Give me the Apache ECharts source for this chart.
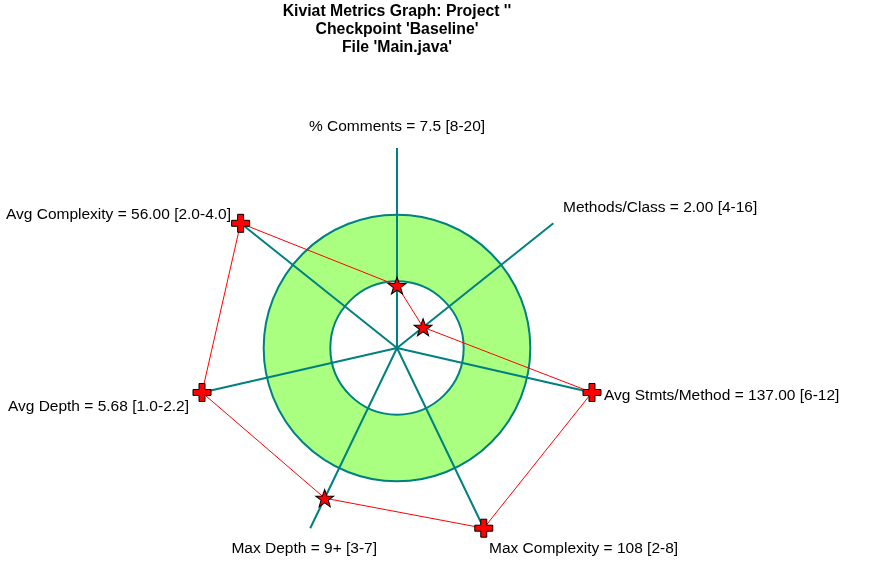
<!DOCTYPE html>
<html>
<head>
<meta charset="utf-8">
<title>Kiviat Metrics Graph</title>
<script src="https://cdn.jsdelivr.net/npm/echarts@6/dist/echarts.min.js"></script>
<style>
  html, body { margin: 0; padding: 0; background: #fff; }
  #chart-container { width: 876px; height: 574px; }
</style>
</head>
<body>
<div id="chart-container"></div>
<script>
// metric data
const metricNames = ["% Comments", "Methods/Class", "Avg Stmts/Method", "Max Complexity", "Max Depth", "Avg Depth", "Avg Complexity"];
const metricValues = [7.5, 2.0, 137.0, 108, 9, 5.68, 56.0];
const metricValueText = ["7.5", "2.00", "137.00", "108", "9+", "5.68", "56.00"];
const rangeLow = [8, 4, 6, 2, 3, 1.0, 2.0];
const rangeHigh = [20, 16, 12, 8, 7, 2.2, 4.0];
const rangeText = ["8-20", "4-16", "6-12", "2-8", "3-7", "1.0-2.2", "2.0-4.0"];

// label anchors [x, y, align]
const labelPlace = [
  [397, 127, "center"],
  [563, 208, "left"],
  [604, 396, "left"],
  [489, 549, "left"],
  [377, 549, "right"],
  [189, 407, "right"],
  [231, 215, "right"],
];

const STAR = "path://M50 0 L61.8 33.8 L97.6 34.5 L69 56.2 L79.4 90.5 L50 70 L20.6 90.5 L31 56.2 L2.4 34.5 L38.2 33.8 Z";
const CROSS = "path://M6 0 H12 V6 H18 V12 H12 V18 H6 V12 H0 V6 H6 Z";
const TEAL = "#008080";
const NONE = "rgba(0,0,0,0)";

/**
 * Map a raw metric onto the kiviat scale: 0-1 below range, 1-2 inside, 2-3 above (clipped).
 */
function kiviatScore(v, lo, hi) {
  let s;
  if (v < lo) s = v / lo;
  else if (v <= hi) s = 1 + (v - lo) / (hi - lo);
  else s = 2 + (v - hi) / (hi - lo);
  return Math.min(s, 3);
}

const dom = document.getElementById("chart-container");
const chart = echarts.init(dom, null, { renderer: "canvas" });

const points = metricValues.map((v, i) => {
  const s = kiviatScore(v, rangeLow[i], rangeHigh[i]);
  const clipped = s >= 3;
  return {
    value: [s, i],
    symbol: clipped ? CROSS : STAR,
    symbolSize: clipped ? [18, 18] : [18, 17],
  };
});
// close the polygon
points.push({ value: [points[0].value[0], metricNames.length], symbol: "none" });

const labels = metricNames.map((n, i) => ({
  type: "text",
  x: labelPlace[i][0],
  y: labelPlace[i][1],
  style: {
    text: `${n} = ${metricValueText[i]} [${rangeText[i]}]`,
    fill: "#000",
    font: "15.5px 'Liberation Sans', Arial, sans-serif",
    textAlign: labelPlace[i][2],
    textVerticalAlign: "middle",
  },
}));

const hiddenParts = {
  axisLine: { show: false },
  axisTick: { show: false },
  axisLabel: { show: false },
};

const option = {
  animation: false,
  backgroundColor: "#fff",
  title: {
    text: "Kiviat Metrics Graph: Project ''\nCheckpoint 'Baseline'\nFile 'Main.java'",
    left: 392,
    top: -2,
    textAlign: "center",
    textStyle: {
      fontFamily: "'Liberation Sans', Arial, sans-serif",
      fontSize: 15.8,
      fontWeight: "bold",
      color: "#000",
      lineHeight: 18,
    },
  },
  // polar 0: green band, polar 1: rings and spokes
  polar: [
    { center: [397, 348], radius: 200 },
    { center: [397, 348], radius: 200 },
  ],
  angleAxis: [
    { polarIndex: 0, type: "value", min: 0, max: metricNames.length, interval: 1, startAngle: 90, ...hiddenParts, splitLine: { show: false }, z: 0 },
    {
      polarIndex: 1,
      type: "value",
      min: 0,
      max: metricNames.length,
      interval: 1,
      startAngle: 90,
      clockwise: true,
      ...hiddenParts,
      splitLine: { show: true, lineStyle: { color: TEAL, width: 2 } },
      z: 3,
    },
  ],
  radiusAxis: [
    {
      polarIndex: 0,
      type: "value",
      min: 0,
      max: 3,
      interval: 1,
      ...hiddenParts,
      splitLine: { show: false },
      splitArea: { show: true, areaStyle: { color: [NONE, "#aaff80", NONE] } },
      z: 0,
    },
    {
      polarIndex: 1,
      type: "value",
      min: 0,
      max: 3,
      interval: 1,
      ...hiddenParts,
      splitLine: { show: true, lineStyle: { color: [NONE, TEAL, TEAL, NONE], width: 2 } },
      splitArea: { show: false },
      z: 2,
    },
  ],
  series: [
    {
      type: "line",
      coordinateSystem: "polar",
      polarIndex: 1,
      data: points,
      clip: false,
      showAllSymbol: true,
      lineStyle: { color: "#ff0000", width: 1 },
      itemStyle: { color: "#ff0000", borderColor: "#000", borderWidth: 1 },
      z: 5,
    },
  ],
  graphic: labels,
};

chart.setOption(option);
</script>
</body>
</html>
